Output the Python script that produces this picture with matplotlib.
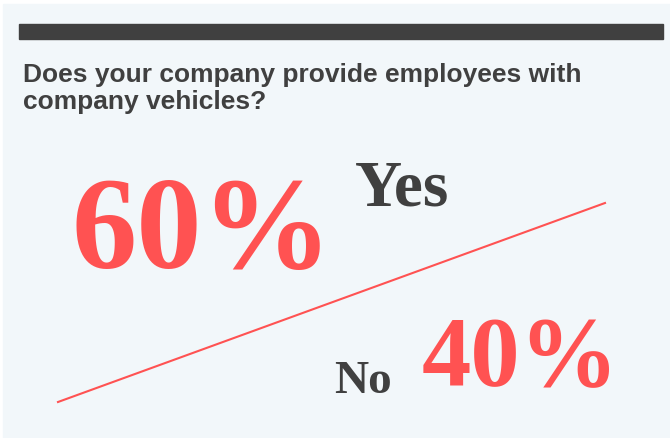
import matplotlib.pyplot as plt
from matplotlib.patches import Rectangle

title_lines = ["Does your company provide employees with", "company vehicles?"]
answers = ["Yes", "No"]
shares = [60, 40]

red = "#ff5252"
dark = "#404040"
panel = "#f2f7fa"

fig = plt.figure(figsize=(6.7, 4.39), dpi=100)
ax = fig.add_axes([0, 0, 1, 1])
ax.set_xlim(0, 670)
ax.set_ylim(439, 0)
ax.axis("off")

# card background and header strip
ax.add_patch(Rectangle((3, 5), 667, 434, color=panel, zorder=0))
ax.add_patch(Rectangle((19, 25), 644, 15, color=dark, zorder=1))

for i, line in enumerate(title_lines):
    ax.text(23, 82 + 27 * i, line, fontsize=19, fontweight="bold", color=dark,
            family="Liberation Sans", va="baseline")

# divider between the two answers
ax.plot([58, 605], [403, 204], color=red, lw=1.5)

serif = "Liberation Serif"
ax.text(72, 268, f"{shares[0]}%", fontsize=94, fontweight="bold",
        color=red, family=serif, va="baseline")
ax.text(355, 206, answers[0], fontsize=47, fontweight="bold",
        color=dark, family=serif, va="baseline")
ax.text(334, 393, answers[1], fontsize=34, fontweight="bold",
        color=dark, family=serif, va="baseline")
ax.text(422, 385, f"{shares[1]}%", fontsize=71, fontweight="bold",
        color=red, family=serif, va="baseline")

fig.savefig("out.png", dpi=100)
